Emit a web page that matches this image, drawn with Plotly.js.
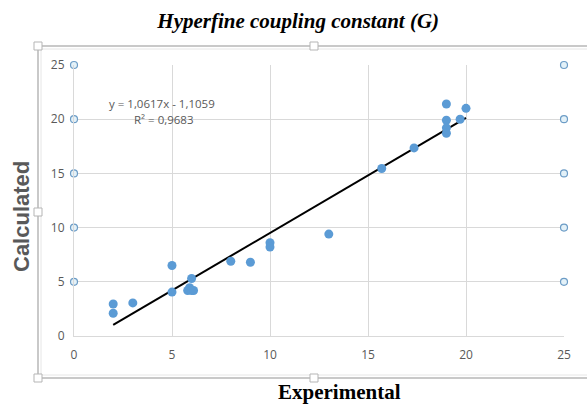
<!DOCTYPE html>
<html><head><meta charset="utf-8">
<script src="https://cdn.plot.ly/plotly-3.0.1.min.js"></script>
<style>html,body{margin:0;padding:0;background:#fff}#c{width:587px;height:405px}</style>
</head><body><div id="c"></div>
<script>
// Data
const expX = [2, 2, 3, 5, 5, 5.8, 5.9, 6.0, 6.1, 6, 8, 9, 10, 10, 13, 15.7, 17.35, 19, 19, 19, 19, 19.7, 20];
const calcY = [2.1, 2.95, 3.05, 6.5, 4.05, 4.2, 4.45, 4.2, 4.2, 5.3, 6.9, 6.8, 8.6, 8.2, 9.4, 15.45, 17.35, 21.4, 19.9, 19.2, 18.7, 20.0, 21.0];
const edgeLeftX = [0, 0, 0, 0, 0];
const edgeRightX = [25, 25, 25, 25, 25];
const edgeY = [5, 10, 15, 20, 25];
const slope = 1.0617, intercept = -1.1059;
const fitRange = [2, 20];
const tickVals = [0, 5, 10, 15, 20, 25];

const W = 587, H = 405;
const M = {l: 74, r: 23, t: 65, b: 69};
const pw = W - M.l - M.r, ph = H - M.t - M.b;
const px = x => (x - M.l) / pw;
const py = y => (H - M.b - y) / ph;

const fitX = fitRange;
const fitY = fitRange.map(x => slope * x + intercept);

const traces = [
  {x: edgeLeftX, y: edgeY, mode: 'markers', type: 'scatter', cliponaxis: false,
   marker: {size: 7, color: '#e3f1f8', line: {color: '#6c9cc6', width: 1.2}}, hoverinfo: 'skip'},
  {x: edgeRightX, y: edgeY, mode: 'markers', type: 'scatter', cliponaxis: false,
   marker: {size: 7, color: '#e3f1f8', line: {color: '#6c9cc6', width: 1.2}}, hoverinfo: 'skip'},
  {x: fitX, y: fitY, mode: 'lines', type: 'scatter', line: {color: '#000', width: 2}},
  {x: expX, y: calcY, mode: 'markers', type: 'scatter',
   marker: {size: 9, color: '#5b9bd5'}}
];

const frameCol = '#c9c9c9';
const shapes = [
  {type: 'rect', xref: 'paper', yref: 'paper', x0: px(38), x1: px(592), y0: py(378), y1: py(46),
   line: {color: frameCol, width: 2}, layer: 'below'},
  {type: 'rect', xref: 'paper', yref: 'paper', x0: px(41), x1: px(592), y0: py(375), y1: py(49),
   line: {color: '#e6e6e6', width: 1}, layer: 'below'}
];
const handles = [[38, 46], [314, 46], [38, 212], [38, 378], [314, 378]];
handles.forEach(([hx, hy]) => {
  shapes.push({type: 'rect', xref: 'paper', yref: 'paper', x0: px(hx - 4), x1: px(hx + 4),
    y0: py(hy + 4), y1: py(hy - 4), fillcolor: '#fff', line: {color: '#b5b5b5', width: 1}});
});

const annFont = {size: 11.5, color: '#595959', family: 'Open Sans, Liberation Sans, sans-serif'};
const layout = {
  width: W, height: H, margin: M, showlegend: false,
  paper_bgcolor: '#fff', plot_bgcolor: '#fff',
  font: {family: 'Liberation Sans, Arial, sans-serif', color: '#595959', size: 11},
  title: {text: '<b><i>Hyperfine coupling constant (G)</i></b>', x: 0.508, xanchor: 'center', y: 0.95, yanchor: 'middle',
          font: {family: 'Liberation Serif, Times New Roman, serif', size: 21, color: '#000'}},
  xaxis: {range: [0, 25], tickvals: tickVals, showgrid: true, gridcolor: '#d9d9d9', gridwidth: 1,
          zeroline: false, showline: true, linecolor: '#d9d9d9', linewidth: 1, ticks: '',
          tickfont: {size: 12, color: '#595959', family: 'Open Sans, Liberation Sans, sans-serif'}, ticklabelstandoff: 8},
  yaxis: {range: [0, 25], tickvals: tickVals, showgrid: true, gridcolor: '#d9d9d9', gridwidth: 1,
          zeroline: false, showline: true, linecolor: '#d9d9d9', linewidth: 1, ticks: '',
          tickfont: {size: 12, color: '#595959', family: 'Open Sans, Liberation Sans, sans-serif'}, ticklabelstandoff: 6},
  shapes: shapes,
  annotations: [
    {text: 'y = 1,0617x - 1,1059', xref: 'paper', yref: 'paper', x: px(162), y: py(103), xanchor: 'center', yanchor: 'middle', showarrow: false, font: annFont},
    {text: 'R² = 0,9683', xref: 'paper', yref: 'paper', x: px(164), y: py(119), xanchor: 'center', yanchor: 'middle', showarrow: false, font: annFont},
    {text: '<b>Calculated</b>', xref: 'paper', yref: 'paper', x: px(21), y: py(217), xanchor: 'center', yanchor: 'middle', textangle: -90, showarrow: false,
     font: {size: 22, color: '#595959', family: 'Liberation Sans, Arial, sans-serif'}},
    {text: '<b>Experimental</b>', xref: 'paper', yref: 'paper', x: px(339), y: py(392), xanchor: 'center', yanchor: 'middle', showarrow: false,
     font: {size: 21, color: '#000', family: 'Liberation Serif, Times New Roman, serif'}}
  ]
};
Plotly.newPlot('c', traces, layout, {displayModeBar: false, staticPlot: true});
</script></body></html>
